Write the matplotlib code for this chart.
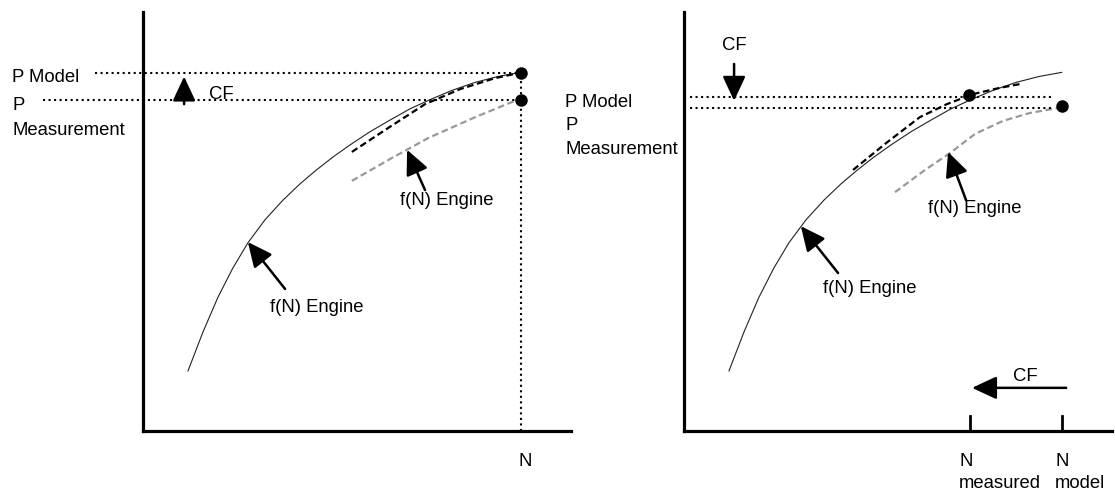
import matplotlib
matplotlib.use("Agg")
import matplotlib.pyplot as plt

plt.rcParams['font.family'] = ['Liberation Sans', 'DejaVu Sans']
FS = 13.3

# ---- data (N = speed, P = power; both panels in 0..100 units) ----
curve_n = [10.5, 14.0, 17.5, 21.0, 24.5, 28.5, 32.7, 36.7, 40.4, 44.4, 48.4, 53.0,
           57.7, 62.4, 67.1, 72.2, 77.6, 82.9, 88.3]
curve_p = [14.3, 23.6, 31.9, 38.9, 44.9, 50.4, 55.1, 59.0, 62.2, 65.4, 68.3, 71.4,
           74.2, 76.9, 79.1, 81.3, 83.2, 84.6, 85.6]

# left panel
l_black_n = [48.8, 57.7, 65.9, 74.1, 82.2, 87.6]
l_black_p = [66.6, 72.6, 78.0, 81.6, 84.2, 85.4]
l_gray_n = [48.8, 57.7, 66.6, 77.6, 86.9]
l_gray_p = [59.7, 64.9, 69.9, 74.9, 78.8]
l_n_point = 88.3
l_p_model = 85.5
l_p_meas = 79.0

# right panel
r_black_n = [39.5, 47.2, 55.1, 61.4, 67.5, 73.8, 78.5]
r_black_p = [62.3, 68.7, 74.9, 78.0, 80.4, 81.9, 82.8]
r_gray_n = [49.3, 56.3, 62.1, 68.0, 74.5, 80.8, 87.4]
r_gray_p = [57.0, 62.3, 66.3, 70.9, 74.0, 75.9, 77.1]
r_n_measured = 66.8
r_n_model = 88.3
r_p_model = 79.7
r_p_meas = 77.1

fig = plt.figure(figsize=(11.15, 4.91), dpi=100)
axL = fig.add_axes([143 / 1115, 60 / 491, 428 / 1115, 419 / 491])
axR = fig.add_axes([684 / 1115, 60 / 491, 428 / 1115, 419 / 491])

for ax in (axL, axR):
    ax.set_xlim(0, 100)
    ax.set_ylim(0, 100)
    for s in ('top', 'right'):
        ax.spines[s].set_visible(False)
    for s in ('left', 'bottom'):
        ax.spines[s].set_linewidth(2.3)
        ax.spines[s].set_capstyle('projecting')
    ax.set_xticks([])
    ax.set_yticks([])
    ax.plot(curve_n, curve_p, color='#222222', lw=0.8, solid_capstyle='round')


def arrow(ax, tail, tip):
    ax.annotate('', xy=tip, xytext=tail,
                arrowprops=dict(arrowstyle='-|>,head_length=1.5,head_width=0.7',
                                mutation_scale=10, lw=1.8, color='black',
                                shrinkA=0, shrinkB=0),
                annotation_clip=False)


def txt(ax, x, y, s, ha='left'):
    ax.text(x, y, s, fontsize=FS, ha=ha, va='center', clip_on=False)


dot_kw = dict(ls=':', color='black', lw=1.5, clip_on=False)
dash_k = dict(ls=(0, (3.0, 1.6)), color='black', lw=1.6)
dash_g = dict(ls=(0, (3.0, 1.6)), color='#999999', lw=1.6)

# ---------------- left panel ----------------
axL.plot(l_black_n, l_black_p, **dash_k)
axL.plot(l_gray_n, l_gray_p, **dash_g)
axL.plot([-11.2, l_n_point], [l_p_model, l_p_model], **dot_kw)
axL.plot([-23.4, l_n_point], [l_p_meas, l_p_meas], **dot_kw)
axL.plot([l_n_point, l_n_point], [0, l_p_model], **dot_kw)
axL.plot([l_n_point, l_n_point], [l_p_model, l_p_meas], 'o', ms=8, color='black', clip_on=False)
txt(axL, -30.6, 84.3, 'P Model')
txt(axL, -30.6, 77.6, 'P')
txt(axL, -30.6, 71.6, 'Measurement')
arrow(axL, (9.6, 78.0), (9.6, 84.6))
txt(axL, 15.4, 80.4, 'CF')
arrow(axL, (65.9, 57.5), (61.7, 67.1))
txt(axL, 71.0, 55.0, 'f(N) Engine', ha='center')
arrow(axL, (33.2, 33.9), (24.5, 45.1))
txt(axL, 40.5, 29.4, 'f(N) Engine', ha='center')
txt(axL, 89.3, -7.2, 'N', ha='center')

# ---------------- right panel ----------------
axR.plot(r_black_n, r_black_p, **dash_k)
axR.plot(r_gray_n, r_gray_p, **dash_g)
axR.plot([1.4, 86.2], [r_p_model, r_p_model], **dot_kw)
axR.plot([1.4, 86.2], [r_p_meas, r_p_meas], **dot_kw)
axR.plot([r_n_measured - 0.3, r_n_model], [r_p_model + 0.5, r_p_meas + 0.5], 'o', ms=8,
         color='black', clip_on=False)
txt(axR, -27.8, 78.3, 'P Model')
txt(axR, -27.8, 72.8, 'P')
txt(axR, -27.8, 67.3, 'Measurement')
arrow(axR, (11.7, 87.6), (11.7, 78.8))
txt(axR, 11.7, 92.0, 'CF', ha='center')
arrow(axR, (65.9, 55.1), (61.7, 66.6))
txt(axR, 68.0, 53.0, 'f(N) Engine', ha='center')
arrow(axR, (36.0, 37.7), (27.3, 48.9))
txt(axR, 43.3, 34.0, 'f(N) Engine', ha='center')
arrow(axR, (89.3, 10.3), (67.3, 10.3))
txt(axR, 79.7, 12.9, 'CF', ha='center')
for n in (r_n_measured, r_n_model):
    axR.plot([n, n], [0, 3.6], color='black', lw=2.0, clip_on=False)
txt(axR, 64.3, -7.2, 'N')
txt(axR, 64.3, -12.6, 'measured')
txt(axR, 86.7, -7.2, 'N')
txt(axR, 86.7, -12.6, 'model')

fig.savefig('out.png', dpi=100)
